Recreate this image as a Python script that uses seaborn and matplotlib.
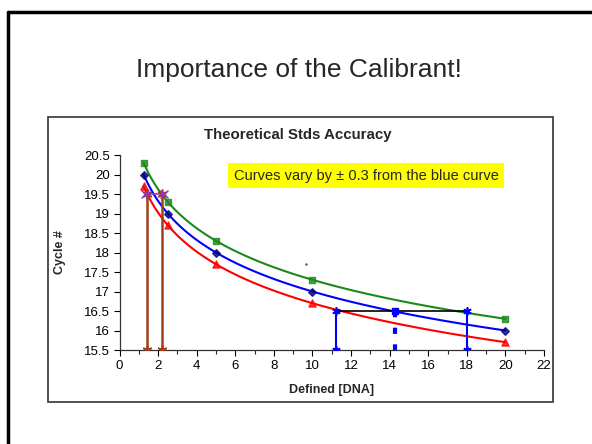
import matplotlib
matplotlib.use("Agg")
import matplotlib.pyplot as plt
import pandas as pd
import seaborn as sns
from matplotlib.patches import Rectangle
from matplotlib.ticker import MultipleLocator, FormatStrFormatter

# standards (defined DNA) and the cycle numbers of the three curves
dna = [1.25, 2.5, 5, 10, 20]
cycle_blue = [20, 19, 18, 17, 16]
cycle_green = [20.3, 19.3, 18.3, 17.3, 16.3]
cycle_red = [19.7, 18.7, 17.7, 16.7, 15.7]

# read-off lines drawn on the chart
brown_x = [1.44, 2.22]
brown_y = [19.5, 15.5]
blue_x = [11.2, 18.0]
blue_y = [16.5, 15.5]
blue_mid_x = 14.3
stray_dot = (9.66, 17.7)

W, H = 592, 444

sns.set_theme(style="white")
plt.rcParams['font.family'] = ['Liberation Sans', 'DejaVu Sans']

fig = plt.figure(figsize=(W / 100, H / 100), dpi=100)

# slide frame (only top and left visible) and the chart box
fig.add_artist(plt.Line2D([7.5 / W, 7.5 / W], [0, 1 - 12 / H], color='black', lw=2.5))
fig.add_artist(plt.Line2D([7.5 / W, 1], [1 - 12 / H, 1 - 12 / H], color='black', lw=2.5))
fig.add_artist(Rectangle((48 / W, 1 - 402 / H), (553 - 48) / W, (402 - 117) / H,
                         transform=fig.transFigure, fill=False, edgecolor='#333333', lw=1.2))

fig.text(299 / W, 1 - 70 / H, "Importance of the Calibrant!", ha='center', va='center', fontsize=19)
fig.text(298 / W, 1 - 135 / H, "Theoretical Stds Accuracy", ha='center', va='center',
         fontsize=10.8, fontweight='bold')

ax = fig.add_axes([119.5 / W, 1 - 350 / H, (544 - 119.5) / W, 195 / H])

df = pd.DataFrame({'dna': dna, 'blue': cycle_blue, 'green': cycle_green, 'red': cycle_red})

series = [('green', '#1a8a1a', 's', 22), ('blue', '#0000ff', 'D', 15), ('red', '#ff0000', '^', 26)]
for col, color, marker, size in series:
    sns.regplot(data=df, x='dna', y=col, logx=True, ci=None, ax=ax, color=color, marker=marker,
                scatter_kws={'s': size, 'zorder': 4, 'color': '#000080' if col == 'blue' else color},
                line_kws={'lw': 1.5})

star = (6, 2, 0)
for x in brown_x:
    ax.plot([x, x], brown_y, color='#a0401a', lw=1.8, marker=star, ms=7, mew=1.2, zorder=3)
ax.plot([brown_x[0] - 0.1, brown_x[1] + 0.1], [brown_y[0], brown_y[0]], color='#9933cc', lw=1.2,
        marker='x', ms=6, zorder=3)

for x in blue_x:
    ax.plot([x, x], blue_y, color='#0000ff', lw=1.5, marker=star, ms=6, mew=1.2, zorder=3)
ax.plot(blue_x, [blue_y[0], blue_y[0]], color='black', lw=1.2, zorder=2)
ax.plot([blue_mid_x, blue_mid_x], blue_y, color='#0000ff', lw=3, ls=(0, (1.5, 2.5)), zorder=3)
ax.plot([blue_mid_x], [blue_y[0]], color='#0000ff', marker='s', ms=5, ls='none', zorder=4)
ax.plot([stray_dot[0]], [stray_dot[1]], color='#555555', marker='.', ms=1.5, ls='none')

ax.set_xlim(0, 22)
ax.set_ylim(15.5, 20.5)
ax.xaxis.set_major_locator(MultipleLocator(2))
ax.xaxis.set_minor_locator(MultipleLocator(1))
ax.yaxis.set_major_locator(MultipleLocator(0.5))
ax.yaxis.set_major_formatter(FormatStrFormatter('%g'))
ax.tick_params(axis='both', which='major', direction='out', length=4, width=0.8,
               labelsize=9.5, colors='black', bottom=True, left=True, pad=3)
ax.tick_params(axis='x', which='minor', direction='out', length=3, width=0.8, bottom=True)
for side in ['top', 'right']:
    ax.spines[side].set_visible(False)
for side in ['left', 'bottom']:
    ax.spines[side].set_color('#333333')
    ax.spines[side].set_linewidth(0.9)
ax.set_xlabel("Defined [DNA]", fontsize=9, fontweight='bold', labelpad=9)
ax.set_ylabel("Cycle #", fontsize=9, fontweight='bold', labelpad=13)

fig.text(366 / W, 1 - 175.5 / H, "Curves vary by \u00b1 0.3 from the blue curve", ha='center', va='center',
         fontsize=10.5, bbox=dict(facecolor='#ffff00', edgecolor='none', boxstyle='square,pad=0.35'))

fig.savefig("out.png", dpi=100)
